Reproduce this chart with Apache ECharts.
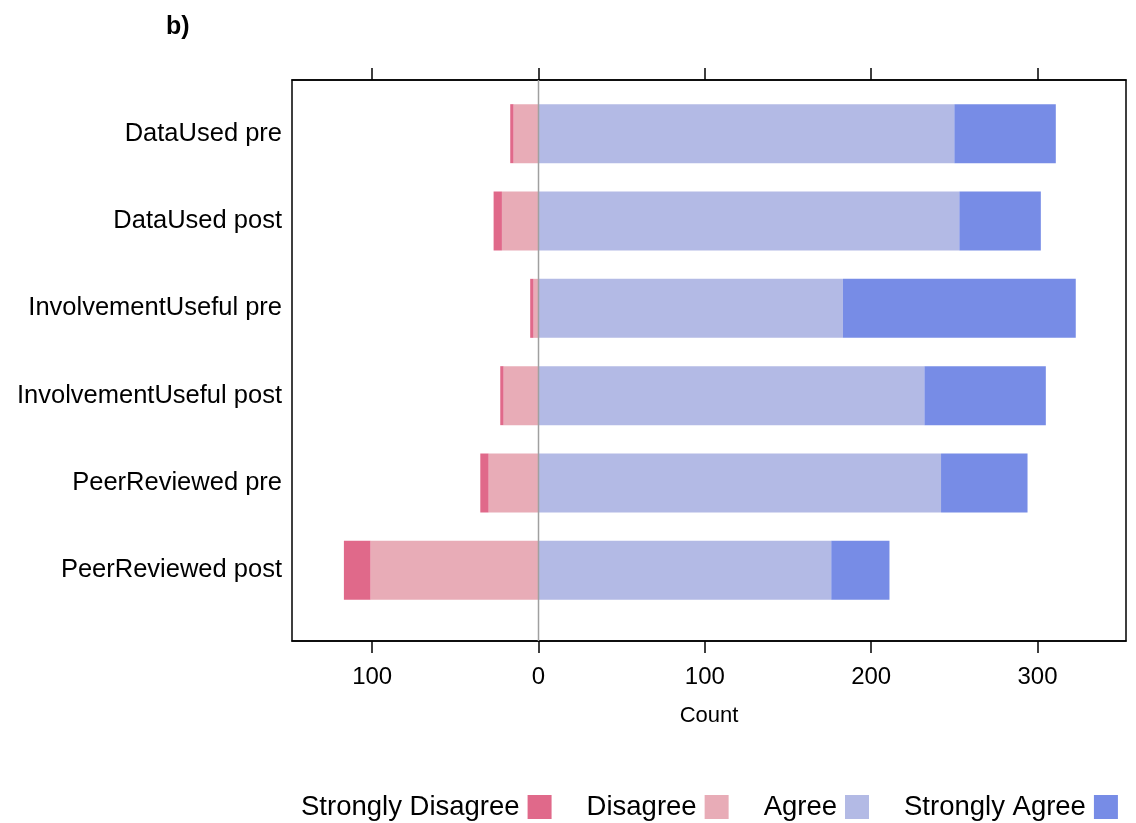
<!DOCTYPE html>
<html>
<head>
<meta charset="utf-8">
<script src="https://cdn.jsdelivr.net/npm/echarts@6/dist/echarts.min.js"></script>
<style>
html,body{margin:0;padding:0;background:#fff;}
#chart{width:1136px;height:823px;}
</style>
</head>
<body>
<div id="chart"></div>
<script>
const categories = ['DataUsed pre','DataUsed post','InvolvementUseful pre','InvolvementUseful post','PeerReviewed pre','PeerReviewed post'];
const stronglyDisagree = [2, 5, 2, 2, 5, 16];
const disagree = [15, 22, 3, 21, 30, 101];
const agree = [250, 253, 183, 232, 242, 176];
const stronglyAgree = [61, 49, 140, 73, 52, 35];
const tickValues = [-100, 0, 100, 200, 300];
const xMin = -148.2, xMax = 353.2;

const FONT = '"Liberation Sans", Arial, sans-serif';
const colors = {sd:'#E0698A', d:'#E8ACB7', a:'#B3BAE5', sa:'#778CE6'};

const chart = echarts.init(document.getElementById('chart'));
const neg = arr => arr.map(v => -v);

const option = {
  animation: false,
  backgroundColor: '#fff',
  title: {
    text: 'b)', left: 161, top: 10,
    textStyle: {fontFamily: FONT, fontSize: 25, fontWeight: 'bold', color: '#000'}
  },
  legend: {
    data: ['Strongly Disagree','Disagree','Agree','Strongly Agree'],
    left: 301, top: 793, align: 'right', itemGap: 35, itemWidth: 24, itemHeight: 24,
    icon: 'rect', padding: 0,
    textStyle: {fontFamily: FONT, fontSize: 27.5, color: '#000', padding: [0, 3, 0, 0]}
  },
  grid: [
    {left: 292, right: 10, top: 80, bottom: 182, show: true, borderColor: '#000', borderWidth: 1.5, backgroundColor: 'transparent'},
    {left: 292, right: 10, top: 90, bottom: 209}
  ],
  xAxis: [
    {gridIndex: 0, type: 'value', min: xMin, max: xMax, position: 'bottom',
     name: 'Count', nameLocation: 'middle', nameGap: 64,
     nameTextStyle: {fontFamily: FONT, fontSize: 22, color: '#000'},
     axisLine: {show: true, lineStyle: {color: '#000', width: 1.5}},
     axisTick: {show: true, length: 12, inside: false, customValues: tickValues, lineStyle: {color: '#000', width: 1.5}},
     axisLabel: {show: true, customValues: tickValues, margin: 24, fontFamily: FONT, fontSize: 24, color: '#000',
                 formatter: v => String(Math.abs(v))},
     splitLine: {show: false}},
    {gridIndex: 0, type: 'value', min: xMin, max: xMax, position: 'top',
     axisLine: {show: true, lineStyle: {color: '#000', width: 1.5}},
     axisTick: {show: true, length: 12, inside: false, customValues: tickValues, lineStyle: {color: '#000', width: 1.5}},
     axisLabel: {show: false}, splitLine: {show: false}},
    {gridIndex: 1, type: 'value', min: xMin, max: xMax, show: false, splitLine: {show: false}}
  ],
  yAxis: [
    {gridIndex: 0, type: 'value', min: 0, max: 1, show: false, splitLine: {show: false}},
    {gridIndex: 1, type: 'category', data: categories, inverse: true,
     axisLine: {show: false}, axisTick: {show: false},
     axisLabel: {margin: 10, fontFamily: FONT, fontSize: 25.5, color: '#000'}}
  ],
  series: [
    {name: 'Disagree', type: 'bar', xAxisIndex: 2, yAxisIndex: 1, stack: 'total', stackStrategy: 'samesign', data: neg(disagree),
     barWidth: 59, itemStyle: {color: colors.d}},
    {name: 'Strongly Disagree', type: 'bar', xAxisIndex: 2, yAxisIndex: 1, stack: 'total', stackStrategy: 'samesign', data: neg(stronglyDisagree),
     barWidth: 59, itemStyle: {color: colors.sd}},
    {name: 'Agree', type: 'bar', xAxisIndex: 2, yAxisIndex: 1, stack: 'total', stackStrategy: 'samesign', data: agree,
     barWidth: 59, itemStyle: {color: colors.a}},
    {name: 'Strongly Agree', type: 'bar', xAxisIndex: 2, yAxisIndex: 1, stack: 'total', stackStrategy: 'samesign', data: stronglyAgree,
     barWidth: 59, itemStyle: {color: colors.sa}},
    {name: 'zero', type: 'line', xAxisIndex: 0, yAxisIndex: 0, data: [[0,0],[0,1]],
     symbol: 'none', z: 10, silent: true, lineStyle: {color: '#A0A0A0', width: 1.5}}
  ]
};
chart.setOption(option);
</script>
</body>
</html>
